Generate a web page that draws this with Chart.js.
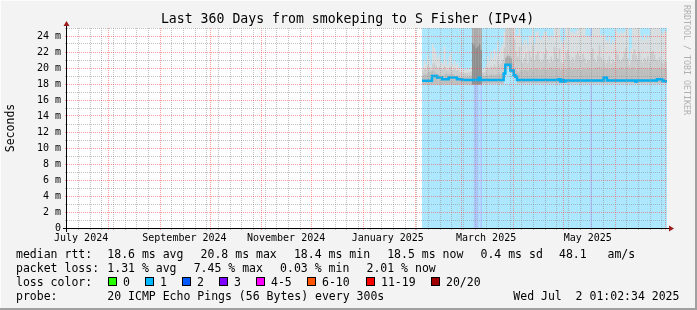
<!DOCTYPE html>
<html>
<head>
<meta charset="utf-8">
<script src="https://cdn.jsdelivr.net/npm/chart.js@4.4.0/dist/chart.umd.min.js"></script>
<style>
  html, body { margin: 0; padding: 0; background: #f3f3f3; }
  canvas { display: block; }
</style>
</head>
<body>
<canvas id="grafico-smokeping" width="697" height="310"></canvas>
<script>
// Time axis: days counted from the left edge of the graph (360 days back)
const startTime = Date.UTC(2024, 6, 7, 1, 2, 34);
const DAY = 86400000;
const spanDays = 360;
const firstDay = 213; // first day with data (Feb 5 2025)
const yMax = 25;      // ms

const axisLabels = ['July 2024', 'September 2024', 'November 2024', 'January 2025', 'March 2025', 'May 2025'];
const axisLabelDates = ['2024-07-15T12:00:00Z', '2024-09-15T12:00:00Z', '2024-11-15T12:00:00Z',
                        '2025-01-15T12:00:00Z', '2025-03-15T12:00:00Z', '2025-05-15T12:00:00Z'];
const monthGridDates = ['2024-08-01', '2024-09-01', '2024-10-01', '2024-11-01', '2024-12-01', '2025-01-01',
                        '2025-02-01', '2025-03-01', '2025-04-01', '2025-05-01', '2025-06-01', '2025-07-01'];
const firstWeekDate = '2024-07-14';

// median rtt per day (ms)
const medianRtt = [
  18.4, 18.4, 18.4, 18.4, 18.4, 18.4, 19.0, 19.0, 19.0, 18.8,
  18.8, 18.8, 18.6, 18.6, 18.6, 18.6, 18.8, 18.8, 18.8, 18.8,
  18.8, 18.6, 18.6, 18.6, 18.5, 18.5, 18.5, 18.5, 18.5, 18.5,
  18.5, 18.5, 18.5, 18.5, 18.8, 18.5, 18.5, 18.5, 18.5, 18.5,
  18.5, 18.5, 18.5, 18.5, 18.5, 18.5, 18.5, 18.5, 18.5, 19.3,
  20.4, 20.4, 20.4, 19.7, 19.7, 19.1, 18.9, 18.5, 18.5, 18.5,
  18.5, 18.5, 18.5, 18.5, 18.5, 18.5, 18.5, 18.5, 18.5, 18.5,
  18.5, 18.5, 18.5, 18.5, 18.5, 18.5, 18.5, 18.5, 18.5, 18.5,
  18.5, 18.5, 18.6, 18.3, 18.5, 18.3, 18.45, 18.45, 18.45, 18.45,
  18.45, 18.45, 18.45, 18.45, 18.45, 18.45, 18.45, 18.45, 18.45, 18.45,
  18.45, 18.45, 18.45, 18.45, 18.45, 18.45, 18.45, 18.45, 18.45, 18.8,
  18.8, 18.45, 18.45, 18.45, 18.45, 18.45, 18.45, 18.45, 18.45, 18.45,
  18.45, 18.45, 18.45, 18.45, 18.45, 18.45, 18.45, 18.45, 18.3, 18.45,
  18.45, 18.45, 18.45, 18.45, 18.45, 18.45, 18.45, 18.45, 18.45, 18.45,
  18.45, 18.6, 18.6, 18.6, 18.45, 18.35, 18.35
];

// smoke: lowest ping, dense band top, mid band top, highest ping (ms)
const smokeLow = [
  18.0, 18.0, 18.0, 18.0, 18.0, 18.0, 18.0, 18.0, 18.0, 18.0,
  18.0, 18.0, 18.0, 18.0, 18.0, 18.0, 18.0, 18.0, 18.0, 18.0,
  18.0, 18.0, 18.0, 18.0, 18.0, 18.0, 18.0, 18.0, 18.0, 18.0,
  18.0, 18.0, 18.0, 18.0, 18.0, 18.0, 18.1, 18.1, 18.1, 18.1,
  18.1, 18.1, 18.1, 18.1, 18.1, 18.1, 18.1, 18.1, 18.1, 18.9,
  20.2, 20.2, 20.2, 19.5, 19.5, 19.0, 18.7, 18.15, 18.15, 18.15,
  18.15, 18.15, 18.15, 18.15, 18.15, 18.15, 18.15, 18.15, 18.15, 18.15,
  18.15, 18.15, 18.15, 18.15, 18.15, 18.15, 18.15, 18.15, 18.15, 18.15,
  18.15, 18.15, 18.15, 18.15, 18.15, 18.15, 18.15, 18.15, 18.15, 18.15,
  18.15, 18.15, 18.15, 18.15, 18.15, 18.15, 18.15, 18.15, 18.15, 18.15,
  18.15, 18.15, 18.15, 18.15, 18.15, 18.15, 18.15, 18.15, 18.15, 18.15,
  18.15, 18.15, 18.15, 18.15, 18.15, 18.15, 18.15, 18.15, 18.15, 18.15,
  18.15, 18.15, 18.15, 18.15, 18.15, 18.15, 18.15, 18.15, 18.15, 18.15,
  18.15, 18.15, 18.15, 18.15, 18.15, 18.15, 18.15, 18.15, 18.15, 18.15,
  18.15, 18.15, 18.15, 18.15, 18.15, 18.15, 18.15
];
const smokeDense = [
  19.0, 19.2, 19.1, 19.3, 19.4, 19.5, 19.6, 19.5, 19.3, 19.2,
  19.1, 19.0, 19.0, 19.1, 19.3, 19.2, 19.2, 19.3, 19.2, 19.0,
  19.0, 18.9, 18.9, 18.8, 18.8, 18.8, 18.8, 18.8, 18.9, 18.9,
  23.0, 22.8, 22.4, 22.6, 22.9, 22.2, 19.0, 18.9, 19.0, 19.1,
  19.0, 19.2, 19.1, 19.0, 19.2, 19.1, 19.3, 19.2, 19.3, 20.0,
  21.3, 21.5, 21.4, 21.2, 20.6, 20.0, 19.6, 19.4, 19.5, 19.7,
  19.6, 19.8, 19.7, 19.6, 19.8, 19.9, 19.7, 19.8, 19.9, 19.8,
  19.7, 19.8, 19.8, 19.9, 19.7, 19.8, 19.9, 20.0, 19.8, 19.9,
  19.8, 19.8, 19.9, 19.7, 19.8, 19.9, 19.8, 19.9, 20.0, 19.8,
  19.8, 19.9, 19.8, 19.9, 19.8, 19.7, 19.8, 19.9, 19.8, 19.9,
  20.0, 19.9, 19.8, 19.9, 20.0, 19.9, 20.1, 19.9, 19.8, 20.0,
  19.9, 19.8, 19.9, 19.8, 19.9, 20.0, 19.9, 19.8, 19.9, 20.0,
  19.9, 19.8, 20.0, 19.9, 19.8, 19.9, 20.0, 19.9, 19.8, 19.9,
  19.9, 20.0, 19.8, 19.9, 19.9, 19.8, 19.9, 20.0, 19.9, 19.8,
  19.9, 19.9, 20.0, 19.9, 19.8, 19.9, 19.8
];
const smokeMid = [
  19.6, 19.9, 19.8, 20.3, 20.0, 19.7, 20.4, 20.6, 20.2, 19.9,
  20.1, 19.8, 19.7, 20.2, 19.8, 19.6, 20.0, 20.1, 19.7, 19.8,
  19.6, 19.7, 19.5, 19.4, 19.3, 19.3, 19.4, 19.3, 19.4, 19.5,
  25, 25, 25, 25, 25, 25, 19.4, 19.4, 19.6, 20.0,
  19.8, 20.2, 20.0, 20.4, 20.1, 20.8, 20.3, 20.6, 20.9, 22.5,
  25, 25, 25, 25, 25, 23.6, 22.0, 21.4, 22.6, 21.0,
  20.6, 21.2, 21.8, 20.5, 22.1, 21.3, 22.8, 20.9, 21.6, 22.0,
  21.1, 20.7, 20.9, 21.7, 22.3, 21.0, 20.6, 21.4, 20.8, 22.6,
  21.9, 21.2, 22.4, 20.7, 20.5, 21.0, 21.8, 22.2, 21.5, 20.9,
  21.3, 20.8, 21.6, 22.0, 21.4, 20.9, 21.7, 21.2, 20.6, 21.0,
  20.8, 21.9, 22.4, 21.1, 20.7, 21.5, 22.8, 21.3, 20.9, 21.0,
  20.6, 20.8, 21.4, 20.5, 21.0, 20.7, 22.2, 21.6, 21.0, 20.8,
  21.3, 21.9, 22.5, 21.2, 20.3, 20.8, 21.7, 22.3, 21.5, 21.0,
  22.0, 20.9, 20.6, 21.2, 20.8, 21.4, 20.7, 21.9, 22.1, 21.6,
  21.0, 20.9, 21.3, 20.8, 20.6, 20.9, 20.7
];
const smokeHigh = [
  20.0, 20.9, 20.4, 21.6, 21.1, 20.3, 22.9, 22.4, 21.8, 21.2,
  21.6, 20.7, 20.5, 22.7, 21.0, 20.3, 21.4, 21.8, 20.4, 20.9,
  20.3, 20.6, 20.0, 19.9, 19.8, 19.7, 19.9, 19.7, 19.8, 20.1,
  25, 25, 25, 25, 25, 25, 19.8, 19.9, 20.3, 21.4,
  20.8, 21.9, 21.2, 22.3, 21.6, 23.3, 21.9, 22.6, 23.0, 24.5,
  25, 25, 25, 25, 25, 25, 24.0, 24.0, 25, 23.8,
  22.9, 23.4, 23.6, 22.8, 24.0, 23.9, 25, 23.0, 24.4, 24.6,
  23.7, 23.5, 24.0, 24.5, 24.5, 23.9, 23.6, 24.0, 23.8, 25,
  25, 25, 25, 23.4, 23.0, 23.5, 25, 25, 25, 24.4,
  24.6, 24.3, 24.6, 25, 25, 25, 25, 25, 23.9, 24.0,
  23.8, 23.9, 25, 25, 25, 25, 25, 24.1, 24.0, 24.2,
  23.5, 23.3, 23.8, 22.9, 23.5, 23.2, 25, 24.4, 24.2, 24.6,
  24.3, 24.5, 25, 25, 21.0, 22.4, 25, 25, 25, 25,
  25, 23.9, 23.4, 24.2, 23.6, 24.1, 23.8, 25, 25, 25,
  25, 25, 25, 24.5, 24.3, 24.6, 24.4
];
// loss colour index per day (1 = 1 of 20 lost, 2 = 2 of 20 lost)
const lossLevel = [
  1, 1, 1, 1, 1, 1, 1, 1, 1, 1,
  1, 1, 1, 1, 1, 1, 1, 1, 1, 1,
  1, 1, 1, 1, 1, 1, 1, 1, 1, 1,
  1, 2, 2, 2, 1, 2, 1, 1, 1, 1,
  1, 1, 1, 1, 1, 1, 1, 1, 1, 1,
  1, 1, 1, 1, 1, 1, 1, 1, 1, 1,
  1, 1, 1, 1, 1, 1, 1, 1, 1, 1,
  1, 1, 1, 1, 1, 1, 1, 1, 1, 1,
  1, 1, 1, 1, 1, 1, 1, 1, 1, 1,
  1, 1, 1, 1, 1, 1, 1, 1, 1, 1,
  1, 2, 1, 1, 1, 1, 1, 1, 1, 1,
  1, 1, 1, 1, 1, 1, 1, 1, 1, 1,
  1, 1, 1, 1, 1, 1, 1, 1, 1, 1,
  1, 1, 1, 1, 1, 1, 1, 1, 1, 1,
  1, 1, 1, 1, 1, 1, 1
];

const lossColorLabels = ['0', '1', '2', '3', '4-5', '6-10', '11-19', '20/20'];
const lossColors = ['#26ff00', '#00b8ff', '#0059ff', '#7e00ff', '#ff00ff', '#ff5500', '#ff0000', '#a10000'];
const rttStats = ['18.6 ms avg', '20.8 ms max', '18.4 ms min', '18.5 ms now', '0.4 ms sd', '48.1   am/s'];
const lossStats = ['1.31 % avg', '7.45 % max', '0.03 % min', '2.01 % now'];
const probeText = '20 ICMP Echo Pings (56 Bytes) every 300s';
const stampText = 'Wed Jul  2 01:02:34 2025';
const titleText = 'Last 360 Days from smokeping to S Fisher (IPv4)';

const MONO = '"DejaVu Sans Mono", "Liberation Mono", monospace';
const majorGrid = 'rgba(255, 60, 60, 0.5)';
const minorGrid = 'rgba(150, 150, 150, 0.6)';

const dayOf = (iso) => (Date.parse(iso) - startTime) / DAY;

// x ticks: weekly minor grid, monthly major grid, mid-month labels
const xTicks = [];
const majorDays = monthGridDates.map((d) => dayOf(d + 'T00:00:00Z'));
for (let d = dayOf(firstWeekDate + 'T00:00:00Z'); d < spanDays; d += 7) {
    if (!majorDays.some((m) => Math.abs(m - d) < 0.01)) xTicks.push({ value: d, kind: 'minor', label: '' });
}
majorDays.forEach((d) => xTicks.push({ value: d, kind: 'major', label: '' }));
axisLabels.forEach((l, i) => xTicks.push({ value: dayOf(axisLabelDates[i]), kind: 'label', label: l }));
xTicks.sort((a, b) => a.value - b.value);

const withAlpha = (hex, a) => {
    const n = parseInt(hex.slice(1), 16);
    return `rgba(${(n >> 16) & 255}, ${(n >> 8) & 255}, ${n & 255}, ${a})`;
};

const dayX = (i) => firstDay + i + 0.5;

const lossBars = lossLevel.map((l, i) => ({ x: dayX(i), y: yMax }));
const highBars = smokeHigh.map((v, i) => ({ x: dayX(i), y: [smokeLow[i], v] }));
const midBars = smokeMid.map((v, i) => ({ x: dayX(i), y: [smokeLow[i], v] }));
const denseBars = smokeDense.map((v, i) => ({ x: dayX(i), y: [smokeLow[i], v] }));
const medianPoints = medianRtt.map((v, i) => ({ x: firstDay + i, y: v }));
medianPoints.push({ x: spanDays, y: medianRtt[medianRtt.length - 1] });

const barCommon = {
    type: 'bar',
    grouped: false,
    barPercentage: 1,
    categoryPercentage: 1,
    borderWidth: 0,
    inflateAmount: 0.4,
};

const rrdFrame = {
    id: 'rrdFrame',
    beforeDraw(chart) {
        const { ctx, chartArea: a } = chart;
        ctx.save();
        ctx.fillStyle = '#f3f3f3';
        ctx.fillRect(0, 0, chart.width, chart.height);
        ctx.fillStyle = '#ffffff';
        ctx.fillRect(a.left, a.top, a.right - a.left, a.bottom - a.top);
        ctx.restore();
    },
    afterDraw(chart) {
        const { ctx, chartArea: a } = chart;
        ctx.save();
        // axes
        ctx.strokeStyle = '#000';
        ctx.lineWidth = 1;
        ctx.beginPath();
        ctx.moveTo(a.left - 4, a.bottom + 0.5);
        ctx.lineTo(a.right + 3, a.bottom + 0.5);
        ctx.moveTo(a.left - 0.5, a.bottom + 4);
        ctx.lineTo(a.left - 0.5, a.top - 3);
        ctx.stroke();
        ctx.fillStyle = '#9c1c1c';
        ctx.beginPath();
        ctx.moveTo(a.right + 2, a.bottom - 2.5);
        ctx.lineTo(a.right + 7, a.bottom + 0.5);
        ctx.lineTo(a.right + 2, a.bottom + 3.5);
        ctx.fill();
        ctx.beginPath();
        ctx.moveTo(a.left - 3.5, a.top - 2);
        ctx.lineTo(a.left - 0.5, a.top - 7);
        ctx.lineTo(a.left + 2.5, a.top - 2);
        ctx.fill();

        // title
        ctx.fillStyle = '#000';
        ctx.textBaseline = 'alphabetic';
        ctx.textAlign = 'center';
        ctx.font = '13.2px ' + MONO;
        ctx.fillText(titleText, 347.5, 23);

        // legend
        ctx.textAlign = 'left';
        ctx.font = '11.5px ' + MONO;
        ctx.fillText('median rtt:', 16, 258);
        [107.3, 200.6, 293.9, 387.2, 480.5, 559].forEach((x, i) => ctx.fillText(rttStats[i], x, 258));
        ctx.fillText('packet loss:', 16, 272);
        [107.3, 193.7, 280.1, 366.5].forEach((x, i) => ctx.fillText(lossStats[i], x, 272));
        ctx.fillText('loss color:', 16, 286);
        const boxX = [108.5, 145.5, 182.5, 219.5, 256.5, 307.5, 366.5, 431.5];
        boxX.forEach((x, i) => {
            ctx.fillStyle = lossColors[i];
            ctx.fillRect(x, 277.5, 8, 8);
            ctx.strokeStyle = '#000';
            ctx.strokeRect(x, 277.5, 8, 8);
            ctx.fillStyle = '#000';
            ctx.fillText(lossColorLabels[i], x + 14.5, 286);
        });
        ctx.fillText('probe:', 16, 300);
        ctx.fillText(probeText, 107.3, 300);
        ctx.fillText(stampText, 513.3, 300);

        // watermark
        ctx.save();
        ctx.translate(686, 5);
        ctx.rotate(Math.PI / 2);
        ctx.font = '8.3px ' + MONO;
        ctx.fillStyle = '#b0b0b0';
        ctx.textBaseline = 'middle';
        ctx.fillText('RRDTOOL / TOBI OETIKER', 0, 0);
        ctx.restore();

        // frame
        ctx.fillStyle = '#a0a0a0';
        ctx.fillRect(0, chart.height - 2, chart.width, 2);
        ctx.fillRect(chart.width - 2, 0, 2, chart.height);
        ctx.fillStyle = '#fcfcfc';
        ctx.fillRect(0, 0, chart.width - 2, 1);
        ctx.fillRect(0, 0, 1, chart.height - 2);
        ctx.restore();
    },
};

new Chart(document.getElementById('grafico-smokeping'), {
    type: 'bar',
    data: {
        datasets: [
            {
                ...barCommon,
                label: 'loss',
                data: lossBars,
                order: 5,
                backgroundColor: (c) => withAlpha(lossColors[lossLevel[c.dataIndex]], 0.34),
            },
            {
                ...barCommon,
                label: 'smoke high',
                data: highBars,
                order: 4,
                backgroundColor: '#dddddd',
            },
            {
                ...barCommon,
                label: 'smoke mid',
                data: midBars,
                order: 3,
                backgroundColor: (c) => (smokeDense[c.dataIndex] > 22 ? '#aaaaaa' : '#cbcbcb'),
            },
            {
                ...barCommon,
                label: 'smoke dense',
                data: denseBars,
                order: 2,
                backgroundColor: (c) => (smokeDense[c.dataIndex] > 22 ? '#8e8e8e'
                    : smokeDense[c.dataIndex] > 21 ? '#a8a8a8' : '#bdbdbd'),
            },
            {
                type: 'line',
                label: 'median rtt',
                data: medianPoints,
                order: 1,
                borderColor: '#00aef2',
                borderWidth: 2.5,
                stepped: 'before',
                pointRadius: 0,
                fill: false,
            },
        ],
    },
    options: {
        responsive: false,
        animation: false,
        devicePixelRatio: 1,
        layout: { padding: { left: 0, top: 28, right: 30, bottom: 62 } },
        plugins: {
            legend: { display: false },
            tooltip: { enabled: false },
            title: { display: false },
        },
        scales: {
            x: {
                type: 'linear',
                min: 0,
                max: spanDays,
                offset: false,
                afterFit: (s) => { s.height = 20; },
                afterBuildTicks: (s) => { s.ticks = xTicks.map((t) => ({ value: t.value })); },
                border: { display: false, dash: [1, 1] },
                grid: {
                    offset: false,
                    z: 1,
                    tickLength: 2,
                    color: (c) => {
                        const t = xTicks[c.index];
                        if (!t || t.kind === 'label') return 'rgba(0,0,0,0)';
                        return t.kind === 'major' ? majorGrid : minorGrid;
                    },
                },
                ticks: {
                    autoSkip: false,
                    maxRotation: 0,
                    minRotation: 0,
                    padding: 2,
                    color: '#000',
                    font: { family: MONO, size: 10 },
                    callback: (v, i) => (xTicks[i] ? xTicks[i].label : ''),
                },
            },
            y: {
                min: 0,
                max: yMax,
                afterFit: (s) => { s.width = 67; },
                border: { display: false, dash: [1, 1] },
                grid: {
                    z: 1,
                    tickLength: 2,
                    color: (c) => (c.tick && c.tick.value % 2 ? minorGrid : majorGrid),
                },
                ticks: {
                    stepSize: 1,
                    autoSkip: false,
                    padding: 4,
                    color: '#000',
                    font: { family: MONO, size: 10 },
                    callback: (v) => (v % 2 ? '' : v === 0 ? '0' : v + ' m'),
                },
                title: {
                    display: true,
                    text: 'Seconds',
                    color: '#000',
                    font: { family: MONO, size: 11.5 },
                    padding: { top: 4, bottom: 0 },
                },
            },
        },
    },
    plugins: [rrdFrame],
});
</script>
</body>
</html>
